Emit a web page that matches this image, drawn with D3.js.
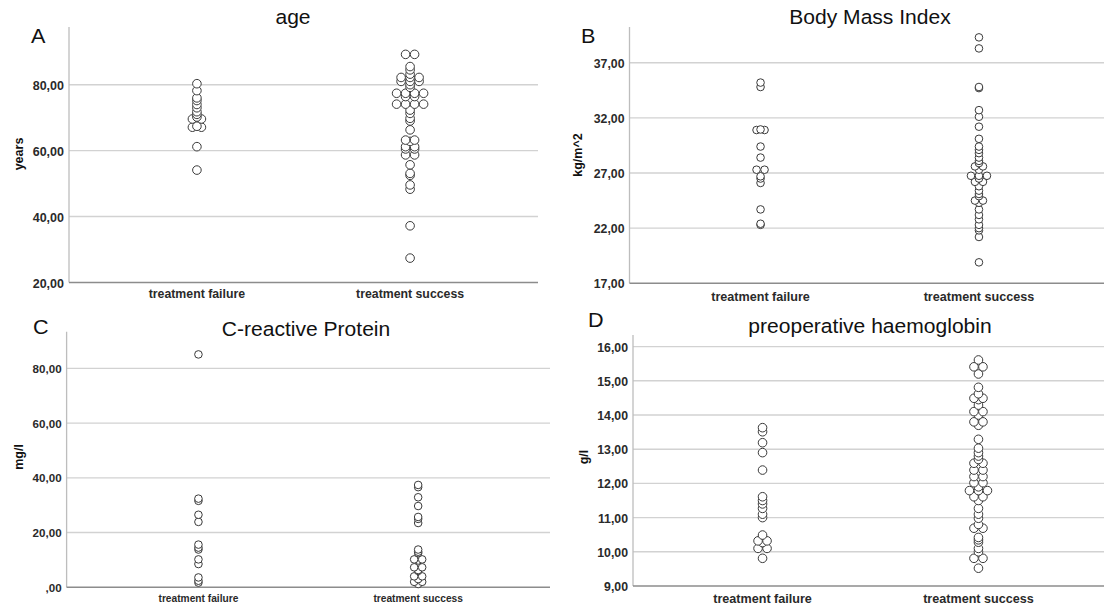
<!DOCTYPE html>
<html>
<head>
<meta charset="utf-8">
<script src="https://cdn.jsdelivr.net/npm/d3@7"></script>
<style>
  body { margin: 0; background: #fff; }
  svg { display: block; font-family: "Liberation Sans", Arial, sans-serif; }
</style>
</head>
<body>
<svg></svg>
<script>
//Setting
const width = 1104;
const height = 605;

//Data
const categories = ["treatment failure", "treatment success"];

const ageFailure = [80.3, 78.2, 76, 75.2, 74, 73, 71.8, 71, 70.2, 69.6, 69.6, 67.4, 67.1, 67.1, 61.2, 54.1];
const ageSuccess = [89.2, 89.2, 85.5, 84.5, 83.2, 82.2, 82.2, 82.2, 81, 81, 81, 80, 79.2,
                    77.4, 77.4, 77.4, 77.4, 76.4, 76.4, 74.1, 74.1, 74.1, 74.1, 72.3, 71.3, 69.8, 69,
                    66.3, 63.2, 63.2, 62.8, 61.2, 61.2, 60.5, 60.5, 58.7, 58.7, 55.7, 53.1, 52.5,
                    49.6, 48.3, 37.2, 27.4];

const bmiFailure = [35.2, 34.8, 30.9, 30.9, 30.95, 29.4, 28.4, 27.3, 27.3, 26.7, 26.5, 26.1, 23.7, 22.4, 22.3];
const bmiSuccess = [39.3, 38.3, 34.8, 34.7, 32.7, 32.1, 31.2, 30.1, 29.4, 29.1, 28.8, 28.4, 28.1, 27.9,
                    27.6, 27.6, 27.3, 26.75, 26.75, 26.75, 26.5, 26.2, 26.2, 25.8, 25.4, 25.1, 24.9,
                    24.5, 24.5, 24.3, 23.7, 23.2, 22.8, 22.3, 22.0, 21.8, 21.2, 18.9];

const crpFailure = [85.1, 32.4, 31.6, 26.5, 23.9, 15.6, 14.5, 13.8, 10.2, 8.5, 3.6, 2.4, 1.7];
const crpSuccess = [37.4, 36.6, 32.9, 29.7, 25.7, 25.0, 23.5, 13.8, 13.0, 12.5, 10.2, 10.2, 9.8,
                    7.3, 7.3, 6.3, 6.0, 4.0, 4.0, 3.0, 2.0, 2.0, 1.2];

const hbFailure = [13.63, 13.51, 13.19, 12.9, 12.39, 11.61, 11.5, 11.4, 11.27, 11.1, 11.0, 10.49,
                   10.32, 10.32, 10.27, 10.1, 10.1, 9.81];
const hbSuccess = [15.61, 15.41, 15.41, 15.2, 14.81, 14.62, 14.49, 14.49, 14.45, 14.29, 14.1, 14.1, 14.0,
                   13.8, 13.8, 13.7, 13.29, 13.03, 12.9, 12.8, 12.7, 12.59, 12.59, 12.39, 12.39,
                   12.2, 12.2, 12.02, 12.02, 11.9, 11.79, 11.79, 11.79, 11.61, 11.61, 11.5, 11.27,
                   11.1, 10.98, 10.8, 10.69, 10.69, 10.42, 10.35, 10.28, 10.1, 10.0, 9.81, 9.81, 9.52];

const ageTicks = [20, 40, 60, 80];
const bmiTicks = [17, 22, 27, 32, 37];
const crpTicks = [0, 20, 40, 60, 80];
const hbTicks = [9, 10, 11, 12, 13, 14, 15, 16];

//Panels (layout only)
const panels = [
  {letter: "A", title: "age", unit: "years", data: [ageFailure, ageSuccess], ticks: ageTicks,
   domain: [20, 97.5], x0: 69, x1: 538, top: 27, bottom: 282.5, r: 4.3,
   letterX: 31, letterY: 43, titleX: 293, titleY: 24, unitX: 19, unitY: 154, catY: 298, catSize: 12.3, tickSize: 12.5},
  {letter: "B", title: "Body Mass Index", unit: "kg/m^2", data: [bmiFailure, bmiSuccess], ticks: bmiTicks,
   domain: [17, 40.24], x0: 629.5, x1: 1110, top: 27, bottom: 283.3, r: 3.8,
   letterX: 581, letterY: 43, titleX: 870, titleY: 24, unitX: 578, unitY: 155, catY: 301, catSize: 12.6, tickSize: 12.3},
  {letter: "C", title: "C-reactive Protein", unit: "mg/l", data: [crpFailure, crpSuccess], ticks: crpTicks,
   domain: [0, 93.4], x0: 66.6, x1: 550, top: 331.7, bottom: 587.3, r: 3.8,
   letterX: 33, letterY: 334, titleX: 306, titleY: 336, unitX: 19, unitY: 457, catY: 601.5, catSize: 10.2, tickSize: 11.6},
  {letter: "D", title: "preoperative haemoglobin", unit: "g/l", data: [hbFailure, hbSuccess], ticks: hbTicks,
   domain: [9, 16.34], x0: 633, x1: 1108, top: 335, bottom: 586, r: 4.3,
   letterX: 588, letterY: 327, titleX: 870, titleY: 333, unitX: 584, unitY: 457, catY: 602.5, catSize: 12.6, tickSize: 12.3}
];

const fmt = v => d3.format(".2f")(v).replace(".", ",").replace(/^0,/, ",");

//Shorten
const svg = d3.select("svg")
            .attr("width", width)
            .attr("height", height);

panels.forEach(p => {
  const g = svg.append("g");

  const x = d3.scalePoint()
              .domain(categories)
              .range([p.x0, p.x1])
              .padding(0.6);

  const y = d3.scaleLinear()
              .domain(p.domain)
              .range([p.bottom, p.top]);

  const axisEnd = Math.min(p.x1, width);

  // gridlines
  g.selectAll(".grid")
    .data(p.ticks.slice(1))
    .enter()
    .append("line")
    .attr("x1", p.x0)
    .attr("x2", axisEnd)
    .attr("y1", d => y(d))
    .attr("y2", d => y(d))
    .attr("stroke", "#d2d2d2")
    .attr("stroke-width", 1.4);

  // axis lines
  g.append("line")
    .attr("x1", p.x0).attr("x2", p.x0)
    .attr("y1", p.top).attr("y2", p.bottom)
    .attr("stroke", "#bdbdbd")
    .attr("stroke-width", 1.3);

  g.append("line")
    .attr("x1", p.x0).attr("x2", axisEnd)
    .attr("y1", p.bottom).attr("y2", p.bottom)
    .attr("stroke", "#8c8c8c")
    .attr("stroke-width", 1.6);

  // tick labels
  g.selectAll(".tick")
    .data(p.ticks)
    .enter()
    .append("text")
    .attr("x", p.x0 - 5)
    .attr("y", d => y(d))
    .attr("dy", "0.4em")
    .attr("text-anchor", "end")
    .style("font-size", p.tickSize + "px")
    .style("font-weight", "bold")
    .style("fill", "#2a2a2a")
    .text(fmt);

  // category labels
  g.selectAll(".cat")
    .data(categories)
    .enter()
    .append("text")
    .attr("x", d => x(d))
    .attr("y", p.catY)
    .attr("text-anchor", "middle")
    .style("font-size", p.catSize + "px")
    .style("font-weight", "bold")
    .style("fill", "#2a2a2a")
    .text(d => d);

  // unit label
  g.append("text")
    .attr("transform", `translate(${p.unitX}, ${p.unitY}) rotate(-90)`)
    .attr("text-anchor", "middle")
    .attr("dy", "0.35em")
    .style("font-size", "12.5px")
    .style("font-weight", "bold")
    .style("fill", "#111")
    .text(p.unit);

  // title and panel letter (source is a bit stretched sideways)
  g.append("text")
    .attr("transform", `translate(${p.titleX}, ${p.titleY}) scale(1.08, 1)`)
    .attr("text-anchor", "middle")
    .style("font-size", "19.5px")
    .style("fill", "#111")
    .text(p.title);

  g.append("text")
    .attr("transform", `translate(${p.letterX}, ${p.letterY}) scale(1.08, 1)`)
    .style("font-size", "20px")
    .style("fill", "#111")
    .text(p.letter);

  // dots: tied values are spread sideways
  const spacing = 2 * p.r + 0.4;
  const dots = [];
  p.data.forEach((vals, i) => {
    d3.group(vals, v => v).forEach((grp, v) => {
      grp.forEach((_, k) => {
        dots.push({cat: categories[i], value: v, off: (k - (grp.length - 1) / 2) * spacing});
      });
    });
  });
  dots.sort((a, b) => a.value - b.value);

  g.selectAll("circle")
    .data(dots)
    .enter()
    .append("circle")
    .attr("cx", d => x(d.cat) + d.off)
    .attr("cy", d => y(d.value))
    .attr("r", p.r)
    .attr("fill", "#fff")
    .attr("stroke", "#3a3a3a")
    .attr("stroke-width", 1);
});
</script>
</body>
</html>
